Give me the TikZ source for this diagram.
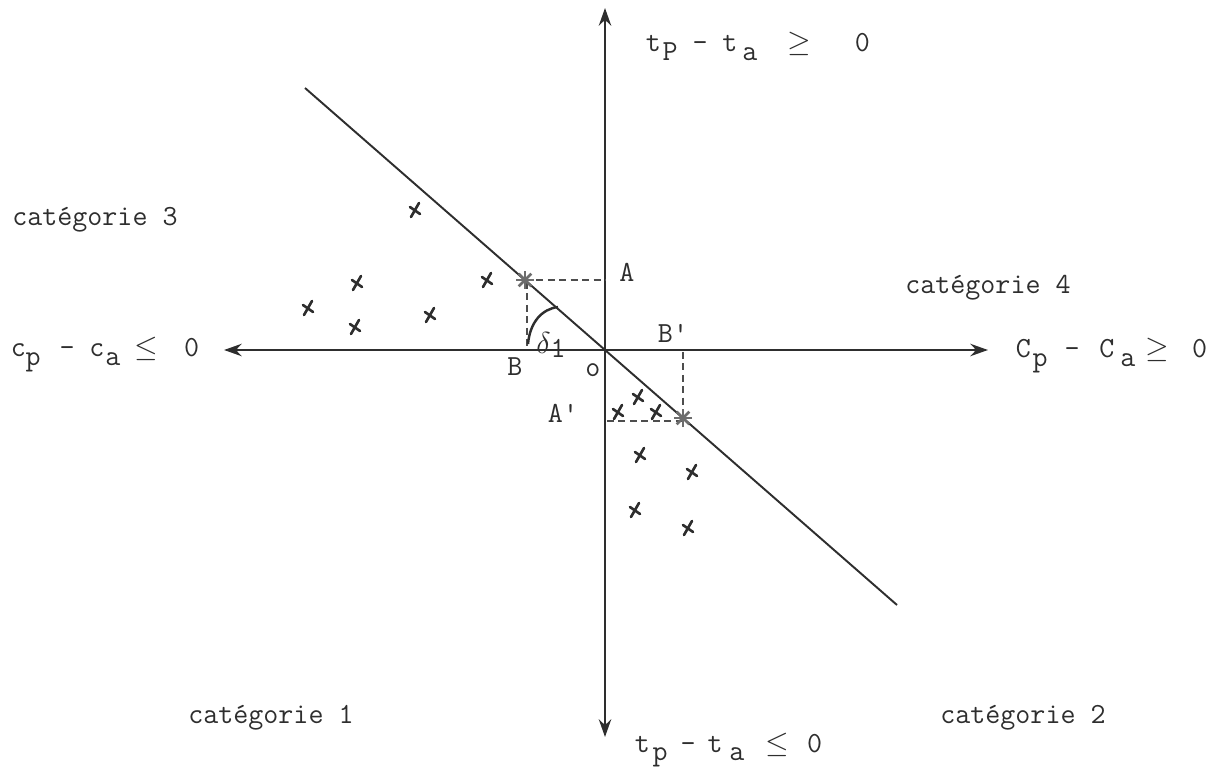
\documentclass[tikz,border=0pt]{standalone}
\usetikzlibrary{arrows.meta}
\newlength\upx \setlength\upx{0.5669pt}
\newcommand\gl[2]{\hspace*{#1\upx}\makebox[0pt]{#2}\hspace*{-#1\upx}}
\newcommand\sbx[1]{\raisebox{-5pt}{#1}}
\definecolor{ink}{gray}{0.18}
\tikzset{
  x=0.02cm, y=-0.02cm,
  axisline/.style={draw=ink, line width=1.5pt, -{Stealth[length=10pt,width=7pt]}},
  diagline/.style={draw=ink, line width=1.1pt},
  dashline/.style={draw=ink!85, line width=1.2pt, dash pattern=on 4pt off 2.5pt},
  lbl/.style={inner sep=0pt, font=\ttfamily\fontsize{16.6}{20}\selectfont, text=ink},
  crossmark/.pic={
    \draw[ink, line width=1.5pt, line cap=round] (4,-7) -- (-4,7);
    \draw[ink, line width=1.5pt, line cap=round] (-5,-3) -- (5,4);
  },
  starmark/.pic={
    \foreach \a in {0,45,90,135}{
      \draw[ink!70, line width=1.6pt] (\a:9) -- (\a+180:9);
    }
  }
}
\begin{document}
\begin{tikzpicture}
\useasboundingbox (0,0) rectangle (1217,773);
% key points
\coordinate (O) at (605,350);
\coordinate (L) at (224,350);
\coordinate (R) at (988,350);
\coordinate (T) at (605,8);
\coordinate (Bt) at (605,737);
\coordinate (D1) at (305,88);
\coordinate (D2) at (897,605);
\coordinate (P1) at (525,280);
\coordinate (P2) at (683,418);
\coordinate (Aax) at (605,280);
\coordinate (Bax) at (527,350);
\coordinate (Bpax) at (683,352);
\coordinate (Apax) at (607,421);
\coordinate (P1v) at (527,282);
\coordinate (P2h) at (683,421);
% axes
\draw[axisline] (O) -- (L);
\draw[axisline] (O) -- (R);
\draw[axisline] (O) -- (T);
\draw[axisline] (O) -- (Bt);
% diagonal
\draw[diagline] (D1) -- (D2);
% dashed projections
\draw[dashline] (P1) -- (Aax);
\draw[dashline] (P1v) -- (Bax);
\draw[dashline] (Bpax) -- (P2);
\draw[dashline] (Apax) -- (P2h);
% angle arc
\draw[ink, line width=1.4pt] (528,344) .. controls (530,322) and (542,309) .. (558,307);
% star marks
\pic at (P1) {starmark};
\pic at (P2) {starmark};
% crosses
\foreach \p in {(415,210),(357,283),(308,308),(355,327),(430,315),(487,280),
                (638,397),(618,412),(656,412),(640,455),(692,472),(635,510),(688,528)}
  \pic at \p {crossmark};
% point labels
\node[lbl] (lA) at (627,272) {A};
\node[lbl] (lBp) at (673,333) {B'};
\node[lbl] (lB) at (515,367) {B};
\node[lbl] (lo) at (593,370) {o};
\node[lbl] (lAp) at (563,413) {A'};
\node[lbl] (ld) at (551,345) {$\delta$\raisebox{-2pt}{1}};
% category labels
\node[lbl, anchor=west] (c3) at (12,220) {catégorie 3};
\node[lbl, anchor=west] (c4) at (905,288) {catégorie 4};
\node[lbl, anchor=west] (c1) at (188,718) {catégorie 1};
\node[lbl, anchor=west] (c2) at (940,718) {catégorie 2};
% axis labels
\node[lbl, anchor=base west] (top) at (640,52)
  {\gl{13}{t}\gl{30}{\sbx{P}}\gl{60}{-}\gl{90}{t}\gl{110}{\sbx{a}}\gl{160}{$\geq$}\gl{223}{0}\hspace*{230\upx}};
\node[lbl, anchor=base west] (bot) at (630,752)
  {\gl{12}{t}\gl{30}{\sbx{p}}\gl{58}{-}\gl{85}{t}\gl{107}{\sbx{a}}\gl{148}{$\leq$}\gl{185}{0}\hspace*{192\upx}};
\node[lbl, anchor=base west] (rgt) at (1010,358)
  {\gl{13}{C}\gl{30}{\sbx{p}}\gl{62}{-}\gl{97}{C}\gl{118}{\sbx{a}}\gl{148}{$\geq$}\gl{190}{0}\hspace*{197\upx}};
\node[lbl, anchor=base west] (lft) at (0,357)
  {\gl{18}{c}\gl{33}{\sbx{p}}\gl{67}{-}\gl{97}{c}\gl{113}{\sbx{a}}\gl{147}{$\leq$}\gl{192}{0}\hspace*{199\upx}};
\end{tikzpicture}
\end{document}
